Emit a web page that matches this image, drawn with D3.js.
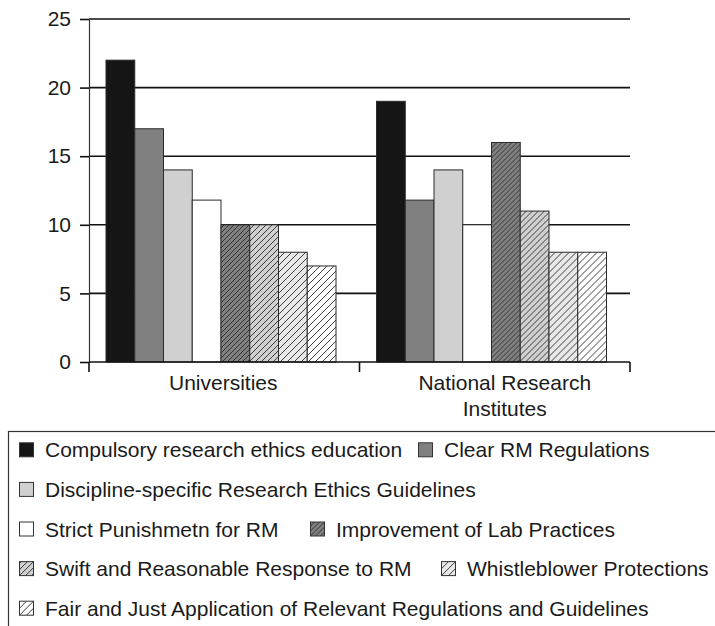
<!DOCTYPE html>
<html>
<head>
<meta charset="utf-8">
<script src="https://cdn.jsdelivr.net/npm/d3@7"></script>
<style>
  body { margin: 0; background: #fff; }
  text { font-family: "Liberation Sans", Arial, Helvetica, sans-serif; fill: #1a1a1a; }
</style>
</head>
<body>
<svg id="chart" width="715" height="626"></svg>
<script>
// Measures seen as most effective against research misconduct, by institution type
const categories = ["Universities", "National Research Institutes"];
const categoryLines = [["Universities"], ["National Research", "Institutes"]];
const seriesNames = [
  "Compulsory research ethics education",
  "Clear RM Regulations",
  "Discipline-specific Research Ethics Guidelines",
  "Strict Punishmetn for RM",
  "Improvement of Lab Practices",
  "Swift and Reasonable Response to RM",
  "Whistleblower Protections",
  "Fair and Just Application of Relevant Regulations and Guidelines"
];
const universities       = [22, 17, 14, 11.8, 10, 10, 8, 7];
const nationalInstitutes = [19, 11.8, 14, 10, 16, 11, 8, 8];
const yTicks = [0, 5, 10, 15, 20, 25];

const values = [universities, nationalInstitutes];

// fill + optional hatch spacing per series
const seriesStyle = [
  { fill: "#151515" },
  { fill: "#808080" },
  { fill: "#cfd0cf" },
  { fill: "#ffffff" },
  { fill: "#808080", hatch: 5 },
  { fill: "#d0d0d0", hatch: 6 },
  { fill: "#e8e8e8", hatch: 7 },
  { fill: "#ffffff", hatch: 7 }
];

// legend flow: [row, swatch x]
const legendLayout = [[0, 19], [0, 418], [1, 19], [2, 19], [2, 310], [3, 19], [3, 441], [4, 19]];

const svg = d3.select("#chart");
const defs = svg.append("defs");

seriesStyle.forEach((s, i) => {
  if (!s.hatch) return;
  const h = s.hatch;
  const p = defs.append("pattern")
    .attr("id", "hatch" + i)
    .attr("patternUnits", "userSpaceOnUse")
    .attr("width", h).attr("height", h);
  p.append("rect").attr("width", h).attr("height", h).attr("fill", s.fill);
  p.append("path")
    .attr("d", `M0,${h} L${h},0 M${-h / 2},${h / 2} L${h / 2},${-h / 2} M${h / 2},${h * 1.5} L${h * 1.5},${h / 2}`)
    .attr("stroke", "#2a2a2a").attr("stroke-width", 0.9);
});
const fillOf = i => seriesStyle[i].hatch ? `url(#hatch${i})` : seriesStyle[i].fill;

const plotLeft = 89, plotRight = 630, plotTop = 19, plotBottom = 362;

const y = d3.scaleLinear().domain([0, 25]).range([plotBottom, plotTop]);
const x0 = d3.scaleBand().domain(categories).range([plotLeft, plotRight]);
const x1 = d3.scaleBand().domain(d3.range(seriesNames.length)).range([17, 247]);

// gridlines
svg.append("g").selectAll("line")
  .data(yTicks.filter(t => t > 0))
  .join("line")
  .attr("x1", plotLeft).attr("x2", plotRight)
  .attr("y1", d => y(d)).attr("y2", d => y(d))
  .attr("stroke", "#111").attr("stroke-width", 1.6);

// bars
const groups = svg.append("g").selectAll("g")
  .data(categories)
  .join("g")
  .attr("transform", d => `translate(${x0(d)},0)`);

groups.selectAll("rect")
  .data((d, ci) => values[ci].map((v, si) => ({ v, si })))
  .join("rect")
  .attr("x", d => x1(d.si))
  .attr("width", x1.bandwidth())
  .attr("y", d => y(d.v))
  .attr("height", d => y(0) - y(d.v))
  .attr("fill", d => fillOf(d.si))
  .attr("stroke", "#2a2a2a")
  .attr("stroke-width", 1);

// y axis
const yAxis = svg.append("g")
  .attr("transform", `translate(${plotLeft},0)`)
  .call(d3.axisLeft(y).tickValues(yTicks).tickSize(9).tickSizeOuter(0).tickPadding(9));
yAxis.select(".domain").attr("stroke", "#333").attr("stroke-width", 1.2);
yAxis.selectAll(".tick line").attr("stroke", "#111").attr("stroke-width", 1.6);
yAxis.selectAll(".tick text")
  .style("font-size", "21px")
  .style("font-family", "'Liberation Sans', Arial, sans-serif")
  .attr("fill", "#1a1a1a");

// x axis baseline and category boundary ticks
svg.append("line")
  .attr("x1", plotLeft).attr("x2", plotRight)
  .attr("y1", y(0)).attr("y2", y(0))
  .attr("stroke", "#111").attr("stroke-width", 1.6);
const boundaries = categories.map(c => x0(c)).concat([x0.range()[1]]);
svg.append("g").selectAll("line")
  .data(boundaries)
  .join("line")
  .attr("x1", d => d).attr("x2", d => d)
  .attr("y1", y(0)).attr("y2", y(0) + 10)
  .attr("stroke", "#111").attr("stroke-width", 1.6);

// category labels
svg.append("g").selectAll("text")
  .data(categories)
  .join("text")
  .attr("text-anchor", "middle")
  .style("font-size", "21px")
  .attr("transform", (d, i) => `translate(${x0(d) + x0.bandwidth() / 2 + (categoryLines[i].length > 1 ? 10 : -1)},390)`)
  .selectAll("tspan")
  .data((d, i) => categoryLines[i])
  .join("tspan")
  .attr("x", 0)
  .attr("dy", (d, j) => j === 0 ? 0 : 25.5)
  .text(d => d);

// legend
const legendTop = 431.5;
svg.append("rect")
  .attr("x", 8.5).attr("y", legendTop)
  .attr("width", 800).attr("height", 300)
  .attr("fill", "none").attr("stroke", "#333").attr("stroke-width", 1.2);

const legendItems = svg.append("g").selectAll("g")
  .data(seriesNames)
  .join("g")
  .attr("transform", (d, i) => `translate(${legendLayout[i][1]},${457.3 + legendLayout[i][0] * 39.6})`);

legendItems.append("rect")
  .attr("x", 0.5).attr("y", -14.5)
  .attr("width", 14).attr("height", 14)
  .attr("fill", (d, i) => fillOf(i))
  .attr("stroke", "#333").attr("stroke-width", 1);

legendItems.append("text")
  .attr("x", 26).attr("y", 0)
  .style("font-size", "21px")
  .text(d => d);
</script>
</body>
</html>
